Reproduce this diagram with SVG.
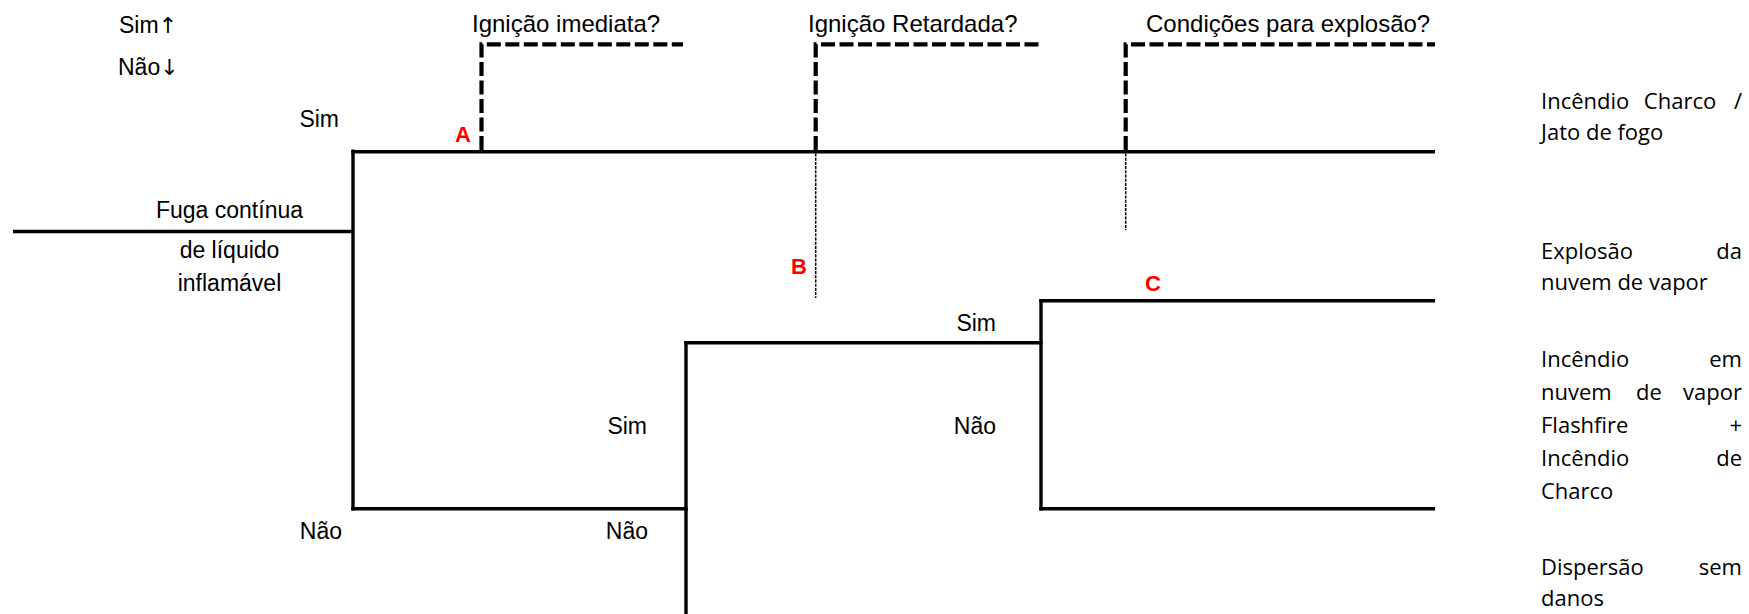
<svg xmlns="http://www.w3.org/2000/svg" width="1749" height="614" viewBox="0 0 1749 614">
<style>
.l{font-family:"Liberation Sans",Arial,sans-serif;font-size:23px;fill:#000}
.h{font-family:"Liberation Sans",Arial,sans-serif;font-size:24px;fill:#000}
.a{font-family:"DejaVu Sans",sans-serif;font-size:22px}
.r{font-family:"Open Sans","Noto Sans",sans-serif;font-size:22px;fill:#000}
.m{font-family:"Liberation Sans",Arial,sans-serif;font-size:22px;font-weight:bold;fill:#FF0000}
.s{fill:none;stroke:#000;stroke-width:3.4}
.d{fill:none;stroke:#000;stroke-width:4.2;stroke-dasharray:14 4.5}
.t{fill:none;stroke:#000;stroke-width:1.5;stroke-dasharray:3 1.2}
</style>
<rect width="1749" height="614" fill="#fff"/>
<g id="connectors">
<path class="s" d="M13,231.5 H354"/>
<path class="s" d="M353,149.5 V510.5"/>
<path class="s" d="M351.3,151.7 H1435"/>
<path class="s" d="M351.3,508.8 H687.7"/>
<path class="s" d="M686,341 V614"/>
<path class="s" d="M684.3,342.7 H1042.7"/>
<path class="s" d="M1041,299 V510.5"/>
<path class="s" d="M1039.3,300.7 H1435"/>
<path class="s" d="M1039.3,508.8 H1435"/>
<path class="d" d="M481.5,150 V44.3 H683"/>
<path class="d" d="M815.7,150 V44.3 H1041"/>
<path class="d" d="M1125.7,150 V44.3 H1435"/>
<path class="t" d="M815.7,153.5 V298"/>
<path class="t" d="M1125.7,153.5 V230"/>
</g>
<g id="legend">
<text class="l" x="119" y="33">Sim<tspan class="a">↑</tspan></text>
<text class="l" x="118" y="75">Não<tspan class="a">↓</tspan></text>
</g>
<g id="headers">
<text class="h" x="472" y="32">Ignição imediata?</text>
<text class="h" x="808" y="32">Ignição Retardada?</text>
<text class="h" x="1146" y="32">Condições para explosão?</text>
</g>
<g id="initiating-event">
<text class="l" x="229.5" y="218" text-anchor="middle">Fuga contínua</text>
<text class="l" x="229.5" y="258" text-anchor="middle">de líquido</text>
<text class="l" x="229.5" y="291" text-anchor="middle">inflamável</text>
</g>
<g id="branch-labels">
<text class="l" x="339" y="127" text-anchor="end">Sim</text>
<text class="l" x="342" y="539" text-anchor="end">Não</text>
<text class="l" x="647" y="434" text-anchor="end">Sim</text>
<text class="l" x="648" y="539" text-anchor="end">Não</text>
<text class="l" x="996" y="331" text-anchor="end">Sim</text>
<text class="l" x="996" y="434" text-anchor="end">Não</text>
</g>
<g id="markers">
<text class="m" x="455" y="142">A</text>
<text class="m" x="791" y="274">B</text>
<text class="m" x="1145" y="291">C</text>
</g>
<g id="outcome-1">
<text class="r" x="1541" y="109">Incêndio</text>
<text class="r" x="1680" y="109" text-anchor="middle">Charco</text>
<text class="r" x="1742" y="109" text-anchor="end">/</text>
<text class="r" x="1541" y="140">Jato de fogo</text>
</g>
<g id="outcome-2">
<text class="r" x="1541" y="259">Explosão</text>
<text class="r" x="1742" y="259" text-anchor="end">da</text>
<text class="r" x="1541" y="290">nuvem de vapor</text>
</g>
<g id="outcome-3">
<text class="r" x="1541" y="367">Incêndio</text>
<text class="r" x="1742" y="367" text-anchor="end">em</text>
<text class="r" x="1541" y="400">nuvem</text>
<text class="r" x="1649" y="400" text-anchor="middle">de</text>
<text class="r" x="1742" y="400" text-anchor="end">vapor</text>
<text class="r" x="1541" y="433">Flashfire</text>
<text class="r" x="1742" y="433" text-anchor="end">+</text>
<text class="r" x="1541" y="466">Incêndio</text>
<text class="r" x="1742" y="466" text-anchor="end">de</text>
<text class="r" x="1541" y="499">Charco</text>
</g>
<g id="outcome-4">
<text class="r" x="1541" y="575">Dispersão</text>
<text class="r" x="1742" y="575" text-anchor="end">sem</text>
<text class="r" x="1541" y="606">danos</text>
</g>
</svg>
